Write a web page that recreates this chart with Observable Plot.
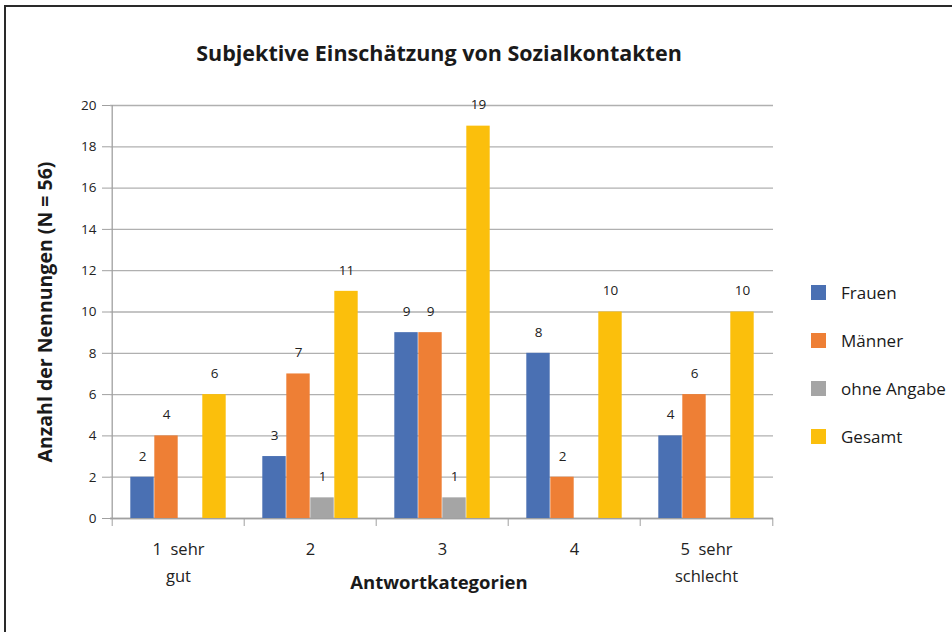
<!DOCTYPE html>
<html><head><meta charset="utf-8">
<script src="https://cdn.jsdelivr.net/npm/d3@7"></script>
<script src="https://cdn.jsdelivr.net/npm/@observablehq/plot@0.6"></script>
<style>
html,body{margin:0;padding:0;background:#fff;overflow:hidden;}
#wrap{position:relative;width:952px;height:632px;font-family:"Open Sans",sans-serif;color:#1a1a1a;}
#border{position:absolute;left:4px;top:5px;width:1100px;height:1100px;border-left:2px solid #2a2a2a;border-top:2px solid #2a2a2a;}
#title{position:absolute;left:0;width:878px;top:38px;text-align:center;font-weight:bold;font-size:21.5px;}
#ylab{position:absolute;left:44px;top:312px;transform:translate(-50%,-50%) rotate(-90deg);white-space:nowrap;font-weight:bold;font-size:19.5px;}
#xlab{position:absolute;left:0;width:878px;top:569px;text-align:center;font-weight:bold;font-size:18.5px;}
#legend{position:absolute;left:811px;top:268px;font-size:17px;}
.li{display:flex;align-items:center;height:48px;}
.sw{width:15px;height:15px;margin-right:15px;}
#chart{position:absolute;left:0;top:0;}
</style></head>
<body><div id="wrap">
<div id="border"></div>
<div id="chart"></div>
<div id="title">Subjektive Einschätzung von Sozialkontakten</div>
<div id="ylab">Anzahl der Nennungen (N = 56)</div>
<div id="xlab">Antwortkategorien</div>
<div id="legend"></div>
</div>
<script>
const categories = ["1", "2", "3", "4", "5"];
const categoryLabels = ["1  sehr\ngut", "2", "3", "4", "5  sehr\nschlecht"];
const seriesNames = ["Frauen", "Männer", "ohne Angabe", "Gesamt"];
const frauen = [2, 3, 9, 8, 4];
const maenner = [4, 7, 9, 2, 6];
const ohneAngabe = [0, 1, 1, 0, 0];
const gesamt = [6, 11, 19, 10, 10];
const yTicks = [0, 2, 4, 6, 8, 10, 12, 14, 16, 18, 20];
const colors = ["#4a70b3", "#ee7f35", "#a5a5a5", "#fbbf0c"];

const seriesValues = [frauen, maenner, ohneAngabe, gesamt];
const W = 952, H = 632, mL = 110, mR = 179, mT = 105, mB = 114;
const bw = (W - mL - mR) / categories.length;
const barW = 24;
const groupLeft = (bw - barW * 4) / 2;

const marks = [
  Plot.gridY(yTicks, {stroke: "#b0b0b0", strokeOpacity: 1, strokeWidth: 1.3}),
  Plot.axisY(yTicks, {tickSize: 8, tickPadding: 6, stroke: "#a0a0a0", fontSize: 13.5, fill: "#222", label: null}),
  Plot.ruleY([0], {stroke: "#a0a0a0", strokeWidth: 1.5}),
  Plot.ruleX([categories[0]], {dx: -bw / 2, stroke: "#a0a0a0", strokeWidth: 1.3})
];
seriesValues.forEach((vals, i) => {
  const data = categories.map((c, j) => ({c, v: vals[j]}));
  marks.push(Plot.barY(data.filter(d => d.v > 0), {
    x: "c", y: "v", fill: colors[i],
    insetLeft: groupLeft + barW * i,
    insetRight: bw - groupLeft - barW * (i + 1)
  }));
  marks.push(Plot.text(data.filter(d => d.v > 0), {
    x: "c", y: "v", text: d => String(d.v),
    dx: -bw / 2 + groupLeft + barW * i + barW / 2, dy: -21,
    fontSize: 13.5, fill: "#222"
  }));
});
marks.push(Plot.axisX(categories, {tickSize: 8, dx: -bw / 2, stroke: "#a0a0a0", tickFormat: () => "", label: null}));
marks.push(Plot.axisX([categories[categories.length - 1]], {tickSize: 8, dx: bw / 2, stroke: "#a0a0a0", tickFormat: () => "", label: null}));
marks.push(Plot.axisX(categories, {tickSize: 0, tickPadding: 17, fontSize: 16.5, fill: "#222", lineHeight: 1.65,
  tickFormat: (d) => categoryLabels[categories.indexOf(d)], label: null}));

const chart = Plot.plot({
  width: W, height: H,
  marginLeft: mL, marginRight: mR, marginTop: mT, marginBottom: mB,
  style: {fontFamily: "'Open Sans', sans-serif", background: "transparent"},
  x: {type: "band", domain: categories, padding: 0, axis: null},
  y: {domain: [0, 20], axis: null},
  marks
});
document.getElementById("chart").appendChild(chart);

const leg = document.getElementById("legend");
seriesNames.forEach((n, i) => {
  const row = document.createElement("div");
  row.className = "li";
  row.innerHTML = `<div class="sw" style="background:${colors[i]}"></div><span>${n}</span>`;
  leg.appendChild(row);
});
</script>
</body></html>
